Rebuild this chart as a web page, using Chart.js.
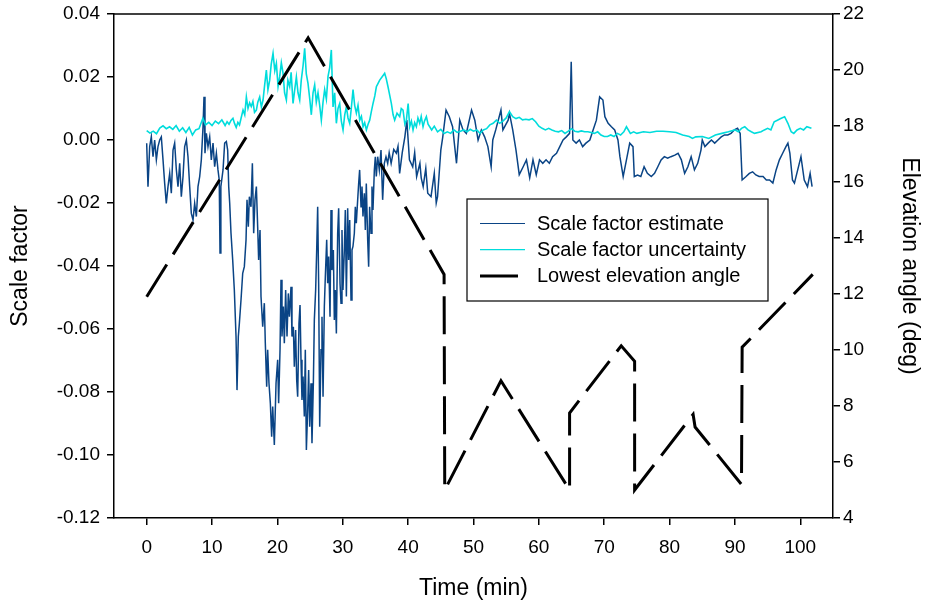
<!DOCTYPE html>
<html>
<head>
<meta charset="utf-8">
<script src="https://cdn.jsdelivr.net/npm/chart.js@4.4.1/dist/chart.umd.min.js"></script>
<style>
  html, body { margin: 0; padding: 0; background: #fff; }
</style>
</head>
<body>
<canvas id="chart" width="925" height="605"></canvas>
<script>
// Scale factor vs time, with lowest elevation angle on a second axis
const FONT = "'Liberation Sans', Arial, sans-serif";

const xTicks = [0, 10, 20, 30, 40, 50, 60, 70, 80, 90, 100];
const scaleTicks = [-0.12, -0.10, -0.08, -0.06, -0.04, -0.02, 0.00, 0.02, 0.04];
const elevTicks = [4, 6, 8, 10, 12, 14, 16, 18, 20, 22];

const estimateTime = [
  0, 0.2, 0.46, 0.71, 0.97, 1.22, 1.48, 1.73, 1.99, 2.24,
  2.5, 2.75, 3.0, 3.26, 3.52, 3.77, 4.03, 4.28, 4.54, 4.79,
  5.05, 5.3, 5.56, 5.81, 6.07, 6.32, 6.58, 6.83, 7.09, 7.34,
  7.6, 7.85, 8.11, 8.36, 8.62, 8.77, 8.92, 9.13, 9.38, 9.64,
  9.89, 10.15, 10.4, 10.66, 10.91, 11.1, 11.22, 11.35, 11.68, 11.93,
  12.19, 12.39, 12.55, 12.7, 12.9, 13.16, 13.41, 13.67, 13.82, 14.02,
  14.18, 14.43, 14.69, 14.94, 15.2, 15.35, 15.55, 15.71, 15.96, 16.17,
  16.37, 16.57, 16.78, 16.98, 17.13, 17.34, 17.49, 17.75, 18.0, 18.15,
  18.36, 18.51, 18.71, 18.92, 19.12, 19.28, 19.53, 19.79, 20.04, 20.19,
  20.4, 20.55, 20.7, 20.91, 21.06, 21.26, 21.47, 21.67, 21.83, 22.08,
  22.23, 22.44, 22.59, 22.79, 22.95, 23.1, 23.3, 23.46, 23.61, 23.76,
  23.92, 24.12, 24.27, 24.43, 24.63, 24.78, 24.94, 25.14, 25.29, 25.5,
  25.65, 25.85, 26.01, 26.16, 26.31, 26.47, 26.67, 26.82, 26.98, 27.18,
  27.33, 27.54, 27.69, 27.84, 28.05, 28.2, 28.35, 28.56, 28.71, 28.86,
  29.02, 29.22, 29.37, 29.58, 29.73, 29.88, 30.03, 30.24, 30.39, 30.55,
  30.75, 30.9, 31.06, 31.26, 31.41, 31.56, 31.77, 31.92, 32.07, 32.28,
  32.43, 32.58, 32.79, 32.94, 33.09, 33.3, 33.45, 33.6, 33.81, 33.96,
  34.11, 34.32, 34.47, 34.62, 34.83, 34.98, 35.13, 35.34, 35.59, 35.85,
  36.1, 36.36, 36.61, 36.87,
  37.1, 37.4, 37.8, 38.2, 38.45, 38.7, 39.1, 39.5, 39.8, 40.2,
  40.7, 41.0, 41.3, 41.8, 42.0, 42.3, 42.7, 43.0, 43.5, 44.0,
  44.3, 44.5, 45.0, 45.3, 45.8, 46.3, 46.8, 47.4, 47.9, 48.4,
  48.9, 49.7, 50.2, 50.7, 51.2, 51.7, 52.2, 52.7, 52.95, 53.4,
  54.2, 54.5, 55.3, 55.5, 56.0, 56.5, 57.0, 57.6, 58.1, 58.6,
  59.1, 59.6, 60.1, 60.6, 61.1, 61.6, 62.1, 62.7, 63.2, 63.7,
  64.2, 64.7, 64.95, 65.2, 65.7, 66.2, 66.7, 67.2, 67.8, 68.3,
  68.8, 69.3, 69.8, 70.1, 70.6, 71.1, 71.6, 72.1, 72.4, 72.9,
  73.4, 73.9, 74.4, 74.6, 75.1, 75.6, 76.1, 76.6, 77.2, 77.7,
  78.2, 78.7, 79.2, 79.7, 80.2, 80.8, 81.3, 81.8, 82.3, 82.8,
  83.3, 83.8, 84.3, 84.8, 85.0, 85.4, 85.9, 86.4, 86.9, 87.4,
  87.9, 88.4, 88.9, 89.4, 89.9, 90.4, 90.8, 91.1, 91.7, 92.2,
  92.7, 93.2, 93.7, 94.3, 94.8, 95.3, 95.8, 96.3, 96.8, 97.3,
  97.8, 98.1, 98.4, 98.8, 99.1, 99.6, 100.1, 100.6, 101.1, 101.5,
  101.8
];
const estimateValue = [
  -0.0010, -0.0148, -0.0021, 0.0010, -0.0053, 0.0000, -0.0063, -0.0021, 0.0000, 0.0010,
  -0.0063, -0.0137, -0.0201, -0.0148, -0.0106, -0.0169, -0.0032, -0.0010, -0.0095, -0.0148,
  -0.0074, -0.0180, -0.0116, -0.0021, 0.0000, -0.0053, -0.0148, -0.0233, -0.0254, -0.0201,
  -0.0243, -0.0148, -0.0116, -0.0063, 0.0042, 0.0137, -0.0042, 0.0021, -0.0021, 0.0010,
  -0.0063, -0.0010, -0.0085, -0.0042, -0.0095, -0.0127, -0.0359, -0.0148, -0.0095, -0.0010,
  -0.0005, -0.0032, -0.0148, -0.0200, -0.0296, -0.0381, -0.0476, -0.0624, -0.0794, -0.0624,
  -0.0582, -0.0508, -0.0423, -0.0402, -0.0317, -0.0190, -0.0275, -0.0180, -0.0212, -0.0074,
  -0.0296, -0.0190, -0.0148, -0.0275, -0.0381, -0.0286, -0.0497, -0.0593, -0.0518, -0.0645,
  -0.0783, -0.0666, -0.0772, -0.0836, -0.0942, -0.0846, -0.0968, -0.0772, -0.0698, -0.0836,
  -0.0666, -0.0444, -0.0624, -0.0529, -0.0645, -0.0476, -0.0624, -0.0487, -0.0561, -0.0466,
  -0.0624, -0.0593, -0.0720, -0.0603, -0.0762, -0.0815, -0.0582, -0.0524, -0.0698, -0.0825,
  -0.0751, -0.0878, -0.0666, -0.0984, -0.0857, -0.0730, -0.0910, -0.0772, -0.0963, -0.0772,
  -0.0571, -0.0476, -0.0349, -0.0212, -0.0455, -0.0910, -0.0666, -0.0561, -0.0815, -0.0529,
  -0.0434, -0.0317, -0.0455, -0.0370, -0.0561, -0.0222, -0.0413, -0.0349, -0.0571, -0.0476,
  -0.0614, -0.0296, -0.0217, -0.0455, -0.0518, -0.0286, -0.0476, -0.0349, -0.0222, -0.0497,
  -0.0217, -0.0381, -0.0254, -0.0508, -0.0349, -0.0338, -0.0296, -0.0212, -0.0264, -0.0190,
  -0.0138, -0.0095, -0.0212, -0.0148, -0.0243, -0.0169, -0.0286, -0.0138, -0.0317, -0.0402,
  -0.0212, -0.0296, -0.0148, -0.0222, -0.0095, -0.0053, -0.0116, -0.0053, -0.0095, -0.0032,
  -0.0190, -0.0074, -0.0053, -0.0074,
  -0.0040, -0.0074, -0.0030, -0.0042, -0.0020, -0.0106, -0.0040, 0.0010, 0.0063, -0.0063,
  -0.0085, -0.0040, -0.0116, -0.0074, -0.0120, -0.0148, -0.0090, -0.0169, -0.0180, -0.0106,
  -0.0200, -0.0180, -0.0032, 0.0010, 0.0095, 0.0074, 0.0042, -0.0074, 0.0063, 0.0032,
  0.0021, 0.0095, 0.0063, 0.0000, 0.0032, 0.0010, -0.0021, -0.0085, 0.0000, 0.0032,
  0.0095, 0.0032, 0.0063, 0.0085, 0.0032, -0.0032, -0.0110, -0.0085, -0.0063, -0.0120,
  -0.0063, -0.0110, -0.0063, -0.0074, -0.0063, -0.0074, -0.0053, -0.0042, -0.0021, 0.0000,
  0.0010, 0.0021, 0.0248, 0.0000, -0.0010, 0.0000, -0.0021, -0.0010, 0.0000, 0.0032,
  0.0063, 0.0137, 0.0127, 0.0074, 0.0053, 0.0042, 0.0032, 0.0000, -0.0053, -0.0116,
  -0.0063, -0.0010, -0.0021, -0.0116, -0.0111, -0.0116, -0.0085, -0.0106, -0.0116, -0.0106,
  -0.0085, -0.0063, -0.0053, -0.0058, -0.0053, -0.0048, -0.0042, -0.0063, -0.0106, -0.0085,
  -0.0053, -0.0095, -0.0074, -0.0032, 0.0000, -0.0021, -0.0010, 0.0000, -0.0010, 0.0000,
  0.0010, 0.0016, 0.0016, 0.0021, 0.0032, 0.0037, 0.0021, -0.0127, -0.0116, -0.0106,
  -0.0101, -0.0111, -0.0116, -0.0116, -0.0127, -0.0127, -0.0137, -0.0095, -0.0063, -0.0042,
  -0.0021, -0.0010, -0.0042, -0.0127, -0.0137, -0.0095, -0.0053, -0.0127, -0.0148, -0.0106,
  -0.0148
];

const uncertaintyTime = [
  0, 0.5, 1, 1.5, 2, 2.5, 3, 3.5, 4, 4.5,
  5, 5.5, 6, 6.5, 7, 7.5, 8, 8.6, 9, 9.5,
  10, 10.5, 11, 11.5,
  12.0, 12.3, 12.6, 12.9, 13.2, 13.45, 13.7, 13.95, 14.2, 14.45,
  14.74, 15.0, 15.25, 15.5, 15.75, 16.0, 16.25, 16.5, 16.78, 17.0,
  17.29, 17.55, 17.8, 18.05, 18.31, 18.55, 18.82, 19.05, 19.33, 19.6,
  19.84, 20.1, 20.35, 20.6, 20.86, 21.1, 21.37, 21.6, 21.88, 22.1,
  22.39, 22.65, 22.9, 23.15, 23.41, 23.65, 23.92, 24.17, 24.42, 24.68,
  24.95, 25.19, 25.45, 25.7, 25.95, 26.21, 26.47, 26.72, 26.98, 27.23,
  27.49, 27.74, 28.0, 28.25, 28.51, 28.76, 29.02, 29.27, 29.53, 29.78,
  30.04, 30.3, 30.55, 30.8, 31.06, 31.3, 31.57, 31.82, 32.08, 32.33,
  32.59, 32.85, 33.1, 33.35, 33.61, 33.87, 34.12, 34.37, 34.63, 34.9,
  35.14, 35.4, 35.65, 36.0, 36.41, 36.65, 36.92, 37.2, 37.43, 37.7,
  37.94, 38.3, 38.71, 38.95, 39.22, 39.5, 39.73, 40.0, 40.24, 40.5,
  40.75, 41.0, 41.26, 41.5, 41.77, 42.0, 42.28, 42.5, 42.79, 43.05,
  43.3, 43.6, 44, 44.5, 45, 45.5, 46, 46.5, 47, 47.5,
  48, 48.5, 49, 49.5, 50, 50.5, 51, 51.5, 52, 52.5,
  53, 53.5, 54, 54.5, 55, 55.5, 56, 56.5, 57, 57.5,
  58, 58.5, 59, 59.5, 60, 60.5, 61, 61.5, 62, 62.5,
  63, 63.5, 64, 64.5, 65, 65.5, 66, 66.5, 67, 67.5,
  68, 68.5, 69, 69.5, 70, 70.5, 71, 71.5, 72, 72.5,
  73, 73.4, 74, 74.5, 75, 76, 77, 78, 79, 80,
  81, 82, 83, 83.5, 84, 85, 86, 87, 88, 89,
  90, 90.5, 91, 91.5, 92, 92.5, 93, 94, 94.5, 95,
  95.5, 96, 96.5, 97, 97.6, 98.1, 98.6, 99, 99.5, 100,
  100.5, 101, 101.7
];
const uncertaintyValue = [
  0.0030, 0.0022, 0.0028, 0.0020, 0.0038, 0.0045, 0.0036, 0.0042, 0.0034, 0.0046,
  0.0028, 0.0039, 0.0024, 0.0040, 0.0016, 0.0032, 0.0036, 0.0069, 0.0048, 0.0056,
  0.0046, 0.0060, 0.0052, 0.0064,
  0.0046, 0.0058, 0.0050, 0.0062, 0.0069, 0.0052, 0.0040, 0.0056, 0.0048, 0.0070,
  0.0095, 0.0080, 0.0137, 0.0100, 0.0118, 0.0106, 0.0122, 0.0088, 0.0095, 0.0120,
  0.0137, 0.0105, 0.0127, 0.0175, 0.0222, 0.0160, 0.0190, 0.0240, 0.0275, 0.0220,
  0.0243, 0.0170, 0.0201, 0.0245, 0.0212, 0.0150, 0.0127, 0.0190, 0.0169, 0.0215,
  0.0116, 0.0160, 0.0200, 0.0150, 0.0127, 0.0190, 0.0235, 0.0291, 0.0210, 0.0180,
  0.0130, 0.0080, 0.0150, 0.0175, 0.0120, 0.0150, 0.0110, 0.0063, 0.0120, 0.0160,
  0.0130, 0.0201, 0.0230, 0.0286, 0.0105, 0.0150, 0.0053, 0.0100, 0.0116, 0.0060,
  0.0032, 0.0080, 0.0106, 0.0070, 0.0053, 0.0100, 0.0160, 0.0110, 0.0085, 0.0110,
  0.0063, 0.0075, 0.0042, 0.0055, 0.0032, 0.0050, 0.0063, 0.0090, 0.0116, 0.0140,
  0.0169, 0.0180, 0.0190, 0.0200, 0.0212, 0.0195, 0.0169, 0.0140, 0.0116, 0.0080,
  0.0063, 0.0085, 0.0074, 0.0100, 0.0095, 0.0050, 0.0063, 0.0116, 0.0042, 0.0060,
  0.0032, 0.0055, 0.0042, 0.0070, 0.0053, 0.0075, 0.0042, 0.0060, 0.0074, 0.0050,
  0.0042, 0.0032, 0.0044, 0.0026, 0.0034, 0.0021, 0.0026, 0.0021, 0.0032, 0.0024,
  0.0028, 0.0032, 0.0026, 0.0034, 0.0028, 0.0032, 0.0021, 0.0032, 0.0036, 0.0048,
  0.0053, 0.0063, 0.0053, 0.0060, 0.0070, 0.0090, 0.0074, 0.0068, 0.0072, 0.0064,
  0.0066, 0.0064, 0.0068, 0.0058, 0.0044, 0.0037, 0.0032, 0.0037, 0.0032, 0.0028,
  0.0026, 0.0030, 0.0021, 0.0028, 0.0036, 0.0028, 0.0026, 0.0029, 0.0026, 0.0026,
  0.0024, 0.0021, 0.0026, 0.0016, 0.0011, 0.0011, 0.0016, 0.0011, 0.0021, 0.0016,
  0.0026, 0.0042, 0.0021, 0.0026, 0.0021, 0.0026, 0.0024, 0.0028, 0.0028, 0.0026,
  0.0024, 0.0016, 0.0011, 0.0005, 0.0010, 0.0011, 0.0005, 0.0016, 0.0021, 0.0026,
  0.0032, 0.0026, 0.0037, 0.0042, 0.0032, 0.0026, 0.0021, 0.0026, 0.0032, 0.0037,
  0.0032, 0.0058, 0.0063, 0.0068, 0.0074, 0.0053, 0.0026, 0.0021, 0.0032, 0.0037,
  0.0032, 0.0042, 0.0037
];

const elevationTime = [0, 24.7, 45.5, 45.6, 54.2, 64.7, 64.7, 72.6, 74.65, 74.65, 83.6, 83.9, 91.0, 91.1, 101.9];
const elevationValue = [11.9, 21.15, 12.7, 5.0, 8.9, 5.0, 7.75, 10.15, 9.6, 5.0, 7.7, 7.25, 5.2, 10.1, 12.7];

const toPoints = (xs, ys) => xs.map((x, i) => ({ x: x, y: ys[i] }));

// frame top line + boxed legend inside the plot
const frameLegend = {
  id: 'frameLegend',
  afterDatasetsDraw(chart) {
    const { ctx, chartArea } = chart;
    ctx.save();
    ctx.strokeStyle = '#000';
    ctx.lineWidth = 1.5;
    ctx.beginPath();
    ctx.moveTo(chartArea.left - 0.75, chartArea.top);
    ctx.lineTo(chartArea.right + 0.75, chartArea.top);
    ctx.stroke();

    const bx = 467, by = 199, bw = 301, bh = 102;
    ctx.fillStyle = '#fff';
    ctx.fillRect(bx, by, bw, bh);
    ctx.lineWidth = 1.2;
    ctx.strokeRect(bx, by, bw, bh);

    ctx.font = '20px ' + FONT;
    ctx.textBaseline = 'middle';
    ctx.textAlign = 'left';
    chart.data.datasets.forEach((ds, i) => {
      const y = by + 24.5 + i * 26.2;
      ctx.strokeStyle = ds.borderColor;
      ctx.lineWidth = ds.legendWidth || ds.borderWidth;
      ctx.setLineDash(ds.borderDash || []);
      ctx.beginPath();
      ctx.moveTo(bx + 13, y);
      ctx.lineTo(bx + 58, y);
      ctx.stroke();
      ctx.setLineDash([]);
      ctx.fillStyle = '#000';
      ctx.fillText(ds.label, bx + 70, y + 1);
    });
    ctx.restore();
  }
};

const tickFont = { family: FONT, size: 19 };
const titleFont = { family: FONT, size: 23 };

// vertical axes: fixed width, no extra top/bottom label padding
const fitVertical = w => s => {
  s.width = w;
  s.paddingTop = 0;
  s.paddingBottom = 0;
};

new Chart(document.getElementById('chart'), {
  type: 'line',
  data: {
    datasets: [
      {
        label: 'Scale factor estimate',
        data: toPoints(estimateTime, estimateValue),
        borderColor: '#0a4485',
        borderWidth: 1.5,
        legendWidth: 1.2,
        yAxisID: 'y',
        order: 2
      },
      {
        label: 'Scale factor uncertainty',
        data: toPoints(uncertaintyTime, uncertaintyValue),
        borderColor: '#00dcdc',
        borderWidth: 1.6,
        legendWidth: 1.2,
        yAxisID: 'y',
        order: 1
      },
      {
        label: 'Lowest elevation angle',
        data: toPoints(elevationTime, elevationValue),
        borderColor: '#000',
        borderWidth: 3,
        borderDash: [38, 12],
        yAxisID: 'y2',
        order: 0
      }
    ]
  },
  options: {
    responsive: false,
    animation: false,
    layout: { padding: { top: 14, left: 0, right: 0, bottom: 0 } },
    elements: {
      point: { radius: 0, hoverRadius: 0 },
      line: { tension: 0, fill: false, borderCapStyle: 'butt', borderJoinStyle: 'miter' }
    },
    plugins: {
      legend: { display: false },
      tooltip: { enabled: false }
    },
    scales: {
      x: {
        type: 'linear',
        min: -5,
        max: 105,
        afterBuildTicks: s => { s.ticks = xTicks.map(v => ({ value: v })); },
        afterFit: s => { s.height = 87; },
        ticks: { font: tickFont, color: '#000', padding: 11, maxRotation: 0 },
        grid: { drawOnChartArea: false, drawTicks: true, tickLength: 7, color: '#000', lineWidth: 1.5 },
        border: { display: true, color: '#000', width: 1.5 },
        title: { display: true, text: 'Time (min)', font: titleFont, color: '#000', padding: { top: 0, bottom: 3 } }
      },
      y: {
        position: 'left',
        min: -0.12,
        max: 0.04,
        afterBuildTicks: s => { s.ticks = scaleTicks.map(v => ({ value: v })); },
        afterFit: fitVertical(114),
        ticks: { font: tickFont, color: '#000', padding: 7, callback: v => v.toFixed(2) },
        grid: { drawOnChartArea: false, drawTicks: true, tickLength: 7, color: '#000', lineWidth: 1.5 },
        border: { display: true, color: '#000', width: 1.5 },
        title: { display: true, text: 'Scale factor', font: titleFont, color: '#000', padding: { top: 7, bottom: 0 } }
      },
      y2: {
        position: 'right',
        min: 4,
        max: 22,
        afterBuildTicks: s => { s.ticks = elevTicks.map(v => ({ value: v })); },
        afterFit: fitVertical(92),
        ticks: { font: tickFont, color: '#000', padding: 3 },
        grid: { drawOnChartArea: false, drawTicks: true, tickLength: 7, color: '#000', lineWidth: 1.5 },
        border: { display: true, color: '#000', width: 1.5 },
        title: { display: true, text: 'Elevation angle (deg)', font: titleFont, color: '#000', padding: { top: 2, bottom: 0 } }
      }
    }
  },
  plugins: [frameLegend]
});
</script>
</body>
</html>
